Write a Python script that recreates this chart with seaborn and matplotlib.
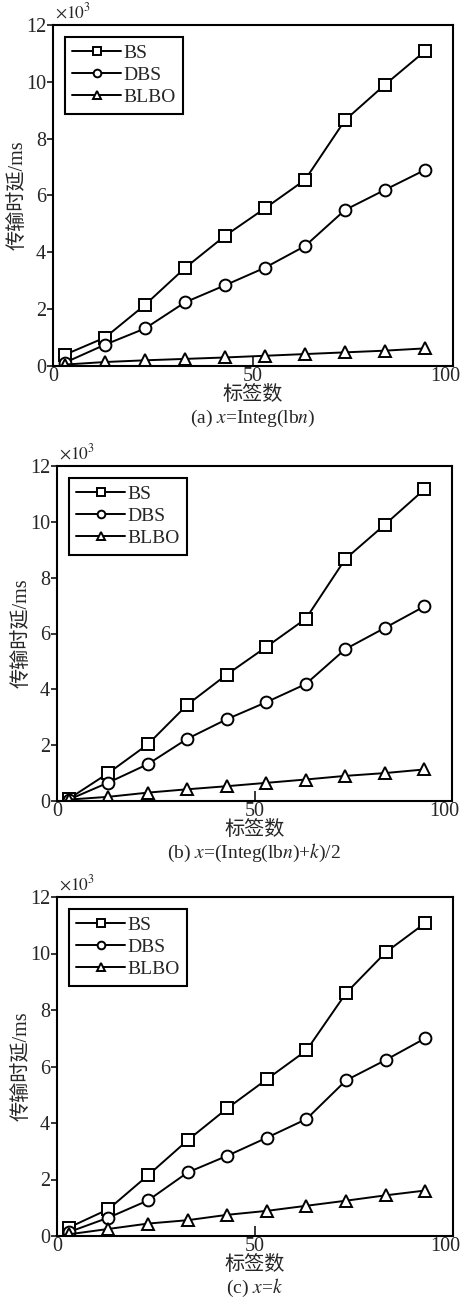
import matplotlib
matplotlib.use("Agg")
import matplotlib.pyplot as plt
import matplotlib.transforms as mtransforms
import seaborn as sns

# estilo base
sns.set_style("ticks")
plt.rcParams["font.family"] = ["Liberation Serif", "Noto Sans CJK SC"]
plt.rcParams["mathtext.fontset"] = "stix"

# ---------------- datos (×10^3 ms) ----------------
tags = [3, 13, 23, 33, 43, 53, 63, 73, 83, 93]

bs_a = [0.40, 1.00, 2.15, 3.45, 4.58, 5.55, 6.55, 8.65, 9.90, 11.08]
dbs_a = [0.12, 0.75, 1.32, 2.24, 2.84, 3.46, 4.22, 5.49, 6.20, 6.90]
blbo_a = [0.05, 0.14, 0.20, 0.25, 0.30, 0.36, 0.42, 0.48, 0.54, 0.62]

bs_b = [0.08, 1.00, 2.03, 3.45, 4.53, 5.52, 6.53, 8.67, 9.90, 11.16]
dbs_b = [0.05, 0.66, 1.32, 2.23, 2.93, 3.54, 4.19, 5.44, 6.20, 6.97]
blbo_b = [0.05, 0.15, 0.30, 0.42, 0.53, 0.65, 0.77, 0.90, 1.00, 1.13]

bs_c = [0.30, 0.95, 2.15, 3.39, 4.52, 5.55, 6.57, 8.60, 10.04, 11.08]
dbs_c = [0.14, 0.65, 1.26, 2.25, 2.84, 3.48, 4.14, 5.51, 6.23, 7.00]
blbo_c = [0.06, 0.25, 0.44, 0.56, 0.75, 0.89, 1.07, 1.25, 1.44, 1.61]

series_names = ["BS", "DBS", "BLBO"]
markers = ["s", "o", "^"]
captions = [r"(a) $x$=Integ(lb$n$)",
            r"(b) $x$=(Integ(lb$n$)+$k$)/2",
            r"(c) $x$=$k$"]
panels = [(bs_a, dbs_a, blbo_a), (bs_b, dbs_b, blbo_b), (bs_c, dbs_c, blbo_c)]

# posiciones de los ejes en pixeles (izq, der, arriba, abajo)
W, H = 463, 1303
boxes = [(53, 453, 25, 366), (57, 452, 466, 801), (57, 453, 897, 1236)]

fig = plt.figure(figsize=(W / 100, H / 100), dpi=100)

for (l, r, t, b), vals, cap in zip(boxes, panels, captions):
    ax = fig.add_axes([l / W, 1 - b / H, (r - l) / W, (b - t) / H])
    for name, mk, y in zip(series_names, markers, vals):
        sns.lineplot(x=tags, y=y, ax=ax, color="black", linewidth=1.4,
                     marker=mk, markersize=8.5, markerfacecolor="white",
                     markeredgecolor="black", markeredgewidth=1.4, label=name)

    ax.set_xlim(0, 100)
    ax.set_ylim(0, 12)
    ax.set_xticks([0, 50, 100])
    ax.set_yticks([0, 2, 4, 6, 8, 10, 12])
    ax.tick_params(axis="x", direction="in", length=7, width=1.3,
                   labelsize=14.5, pad=1)
    ax.tick_params(axis="y", direction="out", length=4, width=1.3,
                   labelsize=14.5, pad=1)
    # el "100" se corre a la izquierda para no salirse de la figura
    last = ax.get_xticklabels()[-1]
    last.set_transform(last.get_transform() +
                       mtransforms.ScaledTranslation(-8 / 100, 0, fig.dpi_scale_trans))
    for sp in ax.spines.values():
        sp.set_linewidth(1.5)
        sp.set_color("black")
        sp.set_visible(True)

    ax.set_xlabel("标签数", fontsize=14.5, labelpad=0)
    ax.set_ylabel("传输时延/ms", fontsize=14.5, labelpad=-1)
    ax.annotate(r"$\times10^3$", xy=(0, 1), xycoords="axes fraction",
                xytext=(2, 3), textcoords="offset pixels",
                ha="left", va="bottom", fontsize=12.5)
    ax.annotate(cap, xy=(0.5, 0), xycoords="axes fraction",
                xytext=(0, -52), textcoords="offset pixels",
                ha="center", va="center", fontsize=14)

    leg = ax.legend(loc="upper left", fontsize=14, frameon=True,
                    fancybox=False, borderpad=0.4, labelspacing=0.22,
                    handlelength=2.5, handletextpad=0.1,
                    borderaxespad=0.6, markerscale=0.65)
    leg.get_frame().set_edgecolor("black")
    leg.get_frame().set_linewidth(1.5)
    leg.get_frame().set_alpha(1)

fig.savefig("out.png", dpi=100)
